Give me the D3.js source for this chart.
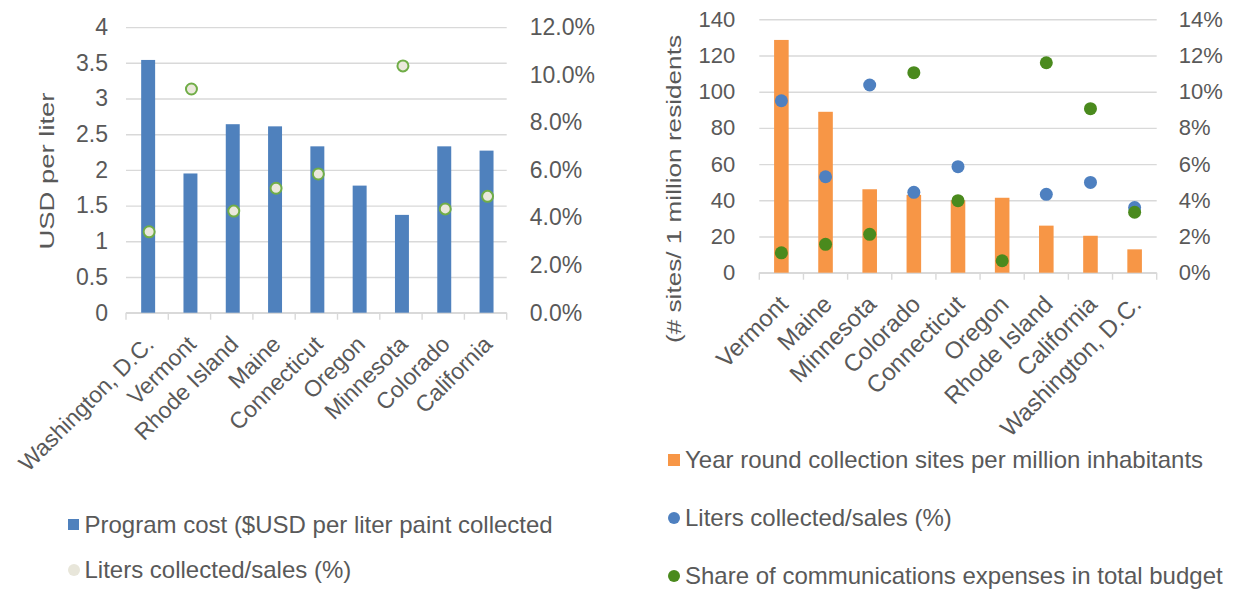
<!DOCTYPE html>
<html><head><meta charset="utf-8">
<script src="https://cdn.jsdelivr.net/npm/d3@7"></script>
<style>
html,body{margin:0;padding:0;background:#fff;}
svg{display:block;font-family:"Liberation Sans",Arial,sans-serif;}
</style></head><body>
<svg id="chart" width="1234" height="589"></svg>
<script>
// Program cost panel
const costStates = ["Washington, D.C.", "Vermont", "Rhode Island", "Maine", "Connecticut", "Oregon", "Minnesota", "Colorado", "California"];
const programCost = [3.54, 1.95, 2.64, 2.61, 2.33, 1.78, 1.37, 2.33, 2.27];
const costLitersPct = [3.40, 9.40, 4.27, 5.23, 5.83, null, 10.37, 4.36, 4.89];
const costTicks = [0, 0.5, 1, 1.5, 2, 2.5, 3, 3.5, 4];
const costPctTicks = [0, 2, 4, 6, 8, 10, 12];

// Collection sites panel
const siteStates = ["Vermont", "Maine", "Minnesota", "Colorado", "Connecticut", "Oregon", "Rhode Island", "California", "Washington, D.C."];
const sitesPerMillion = [128.6, 88.9, 46.1, 43, 40, 41.4, 26, 20.4, 12.9];
const siteLitersPct = [9.5, 5.3, 10.37, 4.44, 5.86, null, 4.33, 4.99, 3.6];
const commsSharePct = [1.1, 1.57, 2.12, 11.05, 3.98, 0.66, 11.6, 9.06, 3.34];
const siteTicks = [0, 20, 40, 60, 80, 100, 120, 140];
const sitePctTicks = [0, 2, 4, 6, 8, 10, 12, 14];

const ink = "#595959", grid = "#d9d9d9";
const blue = "#4f81bd", orange = "#f79646", dotBlue = "#4e80c0", dotGreen = "#4a8a1d";
const svg = d3.select("#chart");

function panel(o) {
  const g = svg.append("g");
  const x = d3.scaleBand().domain(o.cats).range([o.left, o.right]).padding(0);
  const y = d3.scaleLinear().domain(o.leftDomain).range([o.bottom, o.top]);
  const y2 = d3.scaleLinear().domain(o.rightDomain).range([o.bottom, o.top]);

  // gridlines + left tick labels
  const ya = g.append("g").attr("transform", `translate(${o.left},0)`)
    .call(d3.axisLeft(y).tickValues(o.leftTicks).tickFormat(o.leftFmt)
      .tickSize(-(o.right - o.left)).tickPadding(o.padL));
  ya.select(".domain").remove();
  ya.selectAll(".tick line").attr("stroke", grid).attr("stroke-width", 1.4);
  ya.selectAll(".tick text").attr("fill", ink).attr("font-size", o.tickFont)
    .attr("font-family", "Liberation Sans, Arial, sans-serif");

  // right tick labels
  const yb = g.append("g").attr("transform", `translate(${o.right},0)`)
    .call(d3.axisRight(y2).tickValues(o.rightTicks).tickFormat(o.rightFmt)
      .tickSize(0).tickPadding(o.padR));
  yb.select(".domain").remove();
  yb.selectAll(".tick text").attr("fill", ink).attr("font-size", o.tickFont)
    .attr("font-family", "Liberation Sans, Arial, sans-serif");

  // category axis line and boundary ticks
  const y0 = y(0);
  g.append("line").attr("x1", o.left).attr("x2", o.right).attr("y1", y0).attr("y2", y0)
    .attr("stroke", grid).attr("stroke-width", 1.4);
  const bounds = o.cats.map(d => x(d)).concat([o.right]);
  g.selectAll(".btick").data(bounds).join("line")
    .attr("x1", d => d).attr("x2", d => d).attr("y1", y0).attr("y2", y0 + 7)
    .attr("stroke", grid).attr("stroke-width", 1.4);

  g.selectAll(".cat").data(o.cats).join("text")
    .attr("transform", d => `translate(${x(d) + x.bandwidth() / 2 + o.catDx},${y0 + 33}) rotate(-45)`)
    .attr("text-anchor", "end").attr("fill", ink).attr("font-size", o.catFont)
    .text(d => d);

  return { g, x, y, y2 };
}

// ---- left panel: program cost per liter ----
const L = panel({
  cats: costStates, left: 126, right: 506.7, top: 27.1, bottom: 312.7,
  leftDomain: [0, 4], leftTicks: costTicks, leftFmt: d => String(d), padL: 18,
  rightDomain: [0, 12], rightTicks: costPctTicks, rightFmt: d => d.toFixed(1) + "%", padR: 23,
  tickFont: 23, catFont: 23, catDx: 8
});
const lbw = L.x.bandwidth() * 0.33;
L.g.selectAll(".bar").data(programCost).join("rect")
  .attr("x", (d, i) => L.x(costStates[i]) + (L.x.bandwidth() - lbw) / 2 + 1)
  .attr("width", lbw)
  .attr("y", d => L.y(d)).attr("height", d => L.y(0) - L.y(d))
  .attr("fill", blue);
L.g.selectAll(".pt").data(costLitersPct.map((v, i) => ({ v, s: costStates[i] })).filter(d => d.v != null))
  .join("circle")
  .attr("cx", d => L.x(d.s) + L.x.bandwidth() / 2 + 2)
  .attr("cy", d => L.y2(d.v)).attr("r", 5.5)
  .attr("fill", "#ebe8dc").attr("stroke", "#70ad47").attr("stroke-width", 2);

svg.append("text").attr("transform", "translate(54,171) rotate(-90)")
  .attr("text-anchor", "middle").attr("fill", ink).attr("font-size", 20)
  .attr("textLength", 157).attr("lengthAdjust", "spacingAndGlyphs")
  .text("USD per liter");

// legend (left)
svg.append("rect").attr("x", 68).attr("y", 519).attr("width", 11).attr("height", 11).attr("fill", blue);
svg.append("text").attr("x", 84.5).attr("y", 525).attr("dy", "0.35em").attr("fill", ink).attr("font-size", 24)
  .text("Program cost ($USD per liter paint collected");
svg.append("circle").attr("cx", 74).attr("cy", 570).attr("r", 6).attr("fill", "#e8e6da");
svg.append("text").attr("x", 84.5).attr("y", 570).attr("dy", "0.35em").attr("fill", ink).attr("font-size", 24)
  .text("Liters collected/sales (%)");

// ---- right panel: collection sites ----
const R = panel({
  cats: siteStates, left: 759.3, right: 1156.7, top: 19.3, bottom: 272.7,
  leftDomain: [0, 140], leftTicks: siteTicks, leftFmt: d => String(d), padL: 24,
  rightDomain: [0, 14], rightTicks: sitePctTicks, rightFmt: d => d + "%", padR: 22,
  tickFont: 22, catFont: 24, catDx: 8
});
const rbw = R.x.bandwidth() * 0.33;
R.g.selectAll(".bar").data(sitesPerMillion).join("rect")
  .attr("x", (d, i) => R.x(siteStates[i]) + (R.x.bandwidth() - rbw) / 2)
  .attr("width", rbw)
  .attr("y", d => R.y(d)).attr("height", d => R.y(0) - R.y(d))
  .attr("fill", orange);
R.g.selectAll(".bdot").data(siteLitersPct.map((v, i) => ({ v, s: siteStates[i] })).filter(d => d.v != null))
  .join("circle")
  .attr("cx", d => R.x(d.s) + R.x.bandwidth() / 2)
  .attr("cy", d => R.y2(d.v)).attr("r", 6.5).attr("fill", dotBlue);
R.g.selectAll(".gdot").data(commsSharePct.map((v, i) => ({ v, s: siteStates[i] })))
  .join("circle")
  .attr("cx", d => R.x(d.s) + R.x.bandwidth() / 2)
  .attr("cy", d => R.y2(d.v)).attr("r", 6.5).attr("fill", dotGreen);

svg.append("text").attr("transform", "translate(681,189) rotate(-90)")
  .attr("text-anchor", "middle").attr("fill", ink).attr("font-size", 20)
  .attr("textLength", 308).attr("lengthAdjust", "spacingAndGlyphs")
  .text("(# sites/ 1 million residents");

// legend (right)
svg.append("rect").attr("x", 668).attr("y", 454).attr("width", 12).attr("height", 12).attr("fill", orange);
svg.append("text").attr("x", 685).attr("y", 460).attr("dy", "0.35em").attr("fill", ink).attr("font-size", 24)
  .text("Year round collection sites per million inhabitants");
svg.append("circle").attr("cx", 674).attr("cy", 518).attr("r", 6).attr("fill", dotBlue);
svg.append("text").attr("x", 685).attr("y", 518).attr("dy", "0.35em").attr("fill", ink).attr("font-size", 24)
  .text("Liters collected/sales (%)");
svg.append("circle").attr("cx", 674).attr("cy", 576).attr("r", 6).attr("fill", dotGreen);
svg.append("text").attr("x", 685).attr("y", 576).attr("dy", "0.35em").attr("fill", ink).attr("font-size", 24)
  .text("Share of communications expenses in total budget");
</script>
</body></html>
